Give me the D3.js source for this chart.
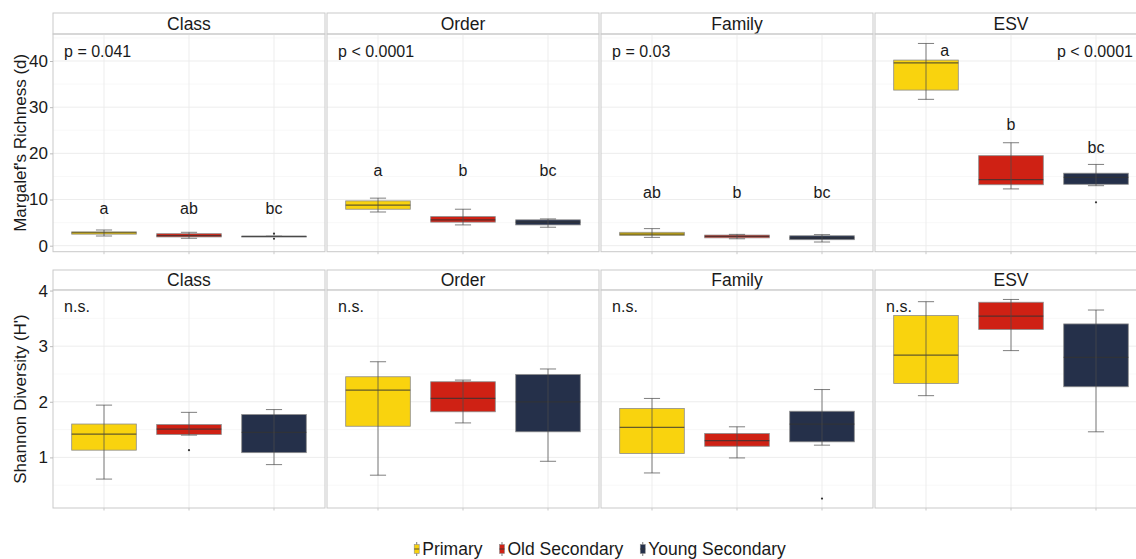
<!DOCTYPE html>
<html>
<head>
<meta charset="utf-8">
<script src="https://cdn.jsdelivr.net/npm/d3@7"></script>
<style>
  html, body { margin: 0; padding: 0; background: #fff; }
  svg { display: block; font-family: "Liberation Sans", Arial, sans-serif; }
</style>
</head>
<body>
<svg id="chart" width="1136" height="559"></svg>
<script>
// ---------------- data ----------------
const ranks = ["Class", "Order", "Family", "ESV"];
const habitats = ["Primary", "Old Secondary", "Young Secondary"];
const habitatColors = ["#F9D30E", "#CF2114", "#25304A"];

// Margalef's richness: [min, q1, median, q3, max] per habitat
const richClass  = [[2.1, 2.5, 2.8, 3.0, 3.4], [1.6, 1.9, 2.2, 2.6, 2.9], [2.0, 2.0, 2.0, 2.05, 2.05]];
const richOrder  = [[7.3, 7.9, 8.8, 9.7, 10.3], [4.5, 5.1, 5.6, 6.3, 7.9], [4.0, 4.5, 5.1, 5.6, 5.8]];
const richFamily = [[1.8, 2.2, 2.5, 2.9, 3.7], [1.5, 1.7, 2.0, 2.3, 2.45], [0.8, 1.3, 1.7, 2.15, 2.4]];
const richESV    = [[31.7, 33.7, 39.6, 40.2, 43.8], [12.3, 13.2, 14.3, 19.5, 22.3], [13.0, 13.3, 14.8, 15.7, 17.6]];
const richOutliers = [[[], [], [2.6, 1.5]], [[], [], []], [[], [], []], [[], [], [9.4]]];
const richLetters  = [["a", "ab", "bc"], ["a", "b", "bc"], ["ab", "b", "bc"], ["a", "b", "bc"]];
const richLetterY  = [[8.1, 8.1, 8.1], [16.3, 16.3, 16.3], [11.5, 11.5, 11.5], [42.3, 26.4, 21.4]];
const richP = ["p = 0.041", "p < 0.0001", "p = 0.03", "p < 0.0001"];
const richPY = 42.1;
const richTicks = [0, 10, 20, 30, 40];

// Shannon diversity: [min, q1, median, q3, max] per habitat
const divClass  = [[0.61, 1.13, 1.42, 1.60, 1.94], [1.40, 1.41, 1.51, 1.59, 1.81], [0.87, 1.085, 1.45, 1.77, 1.86]];
const divOrder  = [[0.68, 1.56, 2.21, 2.45, 2.72], [1.62, 1.82, 2.06, 2.36, 2.39], [0.93, 1.46, 2.0, 2.49, 2.59]];
const divFamily = [[0.72, 1.07, 1.54, 1.88, 2.06], [0.99, 1.20, 1.30, 1.43, 1.55], [1.22, 1.28, 1.6, 1.83, 2.22]];
const divESV    = [[2.11, 2.33, 2.84, 3.55, 3.80], [2.92, 3.30, 3.54, 3.79, 3.84], [1.46, 2.27, 2.8, 3.40, 3.65]];
const divOutliers = [[[], [1.13], []], [[], [], []], [[], [], [0.26]], [[], [], []]];
const divP = ["n.s.", "n.s.", "n.s.", "n.s."];
const divPY = 3.72;
const divTicks = [1, 2, 3, 4];

const yTitles = ["Margalef's Richness (d)", "Shannon Diversity (H')"];

// ---------------- layout ----------------
const svg = d3.select("#chart");
const panelLeft0 = 53, panelW = 272, panelGap = 2;
const rows = [
  { stats: [richClass, richOrder, richFamily, richESV], outliers: richOutliers,
    letters: richLetters, letterY: richLetterY, p: richP, pY: richPY, ticks: richTicks,
    stripTop: 13, top: 34, bottom: 251.7, domain: [-1.3, 45.85], title: yTitles[0] },
  { stats: [divClass, divOrder, divFamily, divESV], outliers: divOutliers,
    letters: null, letterY: null, p: divP, pY: divPY, ticks: divTicks,
    stripTop: 270, top: 290, bottom: 508, domain: [0.09, 4.01], title: yTitles[1] }
];

const borderCol = "#c9c9c9";
const majorGrid = "#ebebeb", minorGrid = "#f4f4f4";
const textCol = "#1a1a1a";

rows.forEach((row, ri) => {
  const y = d3.scaleLinear().domain(row.domain).range([row.bottom, row.top]);
  const step = row.ticks[1] - row.ticks[0];
  const minorTicks = d3.range(row.ticks[0] - step / 2, row.domain[1], step)
    .filter(v => v > row.domain[0] && v < row.domain[1]);

  ranks.forEach((rank, pi) => {
    const left = panelLeft0 + pi * (panelW + panelGap);
    const x = d3.scaleLinear().domain([0.4, 3.6]).range([left, left + panelW]);
    const unit = x(2) - x(1);
    const g = svg.append("g");

    // strip
    g.append("rect").attr("x", left).attr("y", row.stripTop)
      .attr("width", panelW).attr("height", row.top - row.stripTop)
      .attr("fill", "#fff").attr("stroke", borderCol).attr("stroke-width", 1);
    g.append("text").attr("x", left + panelW / 2).attr("y", (row.stripTop + row.top) / 2)
      .attr("dy", "0.36em").attr("text-anchor", "middle")
      .attr("font-size", 17.5).attr("fill", textCol).text(rank);

    // grid
    g.selectAll(".minor").data(minorTicks).join("line")
      .attr("x1", left).attr("x2", left + panelW)
      .attr("y1", d => y(d)).attr("y2", d => y(d))
      .attr("stroke", minorGrid).attr("stroke-width", 0.6);
    g.selectAll(".major").data(row.ticks).join("line")
      .attr("x1", left).attr("x2", left + panelW)
      .attr("y1", d => y(d)).attr("y2", d => y(d))
      .attr("stroke", majorGrid).attr("stroke-width", 0.9);
    g.selectAll(".vmajor").data(habitats).join("line")
      .attr("x1", (d, i) => x(i + 1)).attr("x2", (d, i) => x(i + 1))
      .attr("y1", row.top).attr("y2", row.bottom)
      .attr("stroke", majorGrid).attr("stroke-width", 0.9);

    // x ticks
    g.selectAll(".xt").data(habitats).join("line")
      .attr("x1", (d, i) => x(i + 1)).attr("x2", (d, i) => x(i + 1))
      .attr("y1", row.bottom).attr("y2", row.bottom + 2.5)
      .attr("stroke", "#bbb").attr("stroke-width", 0.8);

    // boxes
    const stats = row.stats[pi];
    const boxW = 0.76 * unit, capW = 0.19 * unit;
    stats.forEach((s, hi) => {
      const cx = x(hi + 1);
      const [mn, q1, md, q3, mx] = s;
      g.append("rect")
        .attr("x", cx - boxW / 2).attr("y", y(q3))
        .attr("width", boxW).attr("height", Math.max(0.8, y(q1) - y(q3)))
        .attr("fill", habitatColors[hi]).attr("stroke", "#8c8c8c").attr("stroke-width", 0.8);
      g.append("line")
        .attr("x1", cx - boxW / 2).attr("x2", cx + boxW / 2)
        .attr("y1", y(md)).attr("y2", y(md))
        .attr("stroke", "#333").attr("stroke-opacity", 0.75).attr("stroke-width", 1.2);
      // error bar whiskers
      const wcol = "#4d4d4d";
      g.append("line").attr("x1", cx).attr("x2", cx).attr("y1", y(mx)).attr("y2", y(mn))
        .attr("stroke", wcol).attr("stroke-opacity", 0.8).attr("stroke-width", 0.9);
      [mn, mx].forEach(v => {
        g.append("line").attr("x1", cx - capW / 2).attr("x2", cx + capW / 2)
          .attr("y1", y(v)).attr("y2", y(v))
          .attr("stroke", wcol).attr("stroke-opacity", 0.8).attr("stroke-width", 0.9);
      });
      // outliers
      row.outliers[pi][hi].forEach(v => {
        g.append("circle").attr("cx", cx).attr("cy", y(v)).attr("r", 1.1).attr("fill", "#333");
      });
      // letters
      if (row.letters) {
        const dx = (pi === 3 && hi === 0) ? 0.22 * unit : 0;
        g.append("text").attr("x", cx + dx).attr("y", y(row.letterY[pi][hi]))
          .attr("dy", "0.36em").attr("text-anchor", "middle")
          .attr("font-size", 16).attr("fill", textCol).text(row.letters[pi][hi]);
      }
    });

    // p label
    const rightAligned = (ri === 0 && pi === 3);
    g.append("text")
      .attr("x", rightAligned ? x(3.435) : x(0.53))
      .attr("y", y(row.pY)).attr("dy", "0.36em")
      .attr("text-anchor", rightAligned ? "end" : "start")
      .attr("font-size", 16).attr("fill", textCol).text(row.p[pi]);

    // panel border
    g.append("rect").attr("x", left).attr("y", row.top)
      .attr("width", panelW).attr("height", row.bottom - row.top)
      .attr("fill", "none").attr("stroke", borderCol).attr("stroke-width", 1);
  });

  // y axis
  const axis = d3.axisLeft(y).tickValues(row.ticks).tickSize(3).tickPadding(2).tickFormat(d3.format("d"));
  const ag = svg.append("g").attr("transform", `translate(${panelLeft0},0)`).call(axis);
  ag.select(".domain").remove();
  ag.selectAll(".tick line").attr("stroke", "#bbb");
  ag.selectAll(".tick text").attr("font-size", 17).attr("fill", textCol)
    .attr("font-family", "Liberation Sans, Arial, sans-serif");

  svg.append("text")
    .attr("transform", `translate(20,${(row.top + row.bottom) / 2}) rotate(-90)`)
    .attr("text-anchor", "middle").attr("dy", "0.36em")
    .attr("font-size", 17).attr("fill", textCol).text(row.title);
});

// ---------------- legend ----------------
const legend = svg.append("g");
let lx = 0;
const items = [];
habitats.forEach((h, i) => {
  const it = legend.append("g");
  it.append("line").attr("x1", 2.5).attr("x2", 2.5).attr("y1", -7).attr("y2", 7)
    .attr("stroke", "#555").attr("stroke-width", 0.8);
  it.append("rect").attr("x", 0).attr("y", -4.5).attr("width", 5).attr("height", 9)
    .attr("fill", habitatColors[i]).attr("stroke", "#8c8c8c").attr("stroke-width", 0.6);
  it.append("line").attr("x1", 0).attr("x2", 5).attr("y1", 0).attr("y2", 0)
    .attr("stroke", "#333").attr("stroke-width", 0.8);
  const t = it.append("text").attr("x", 8).attr("y", 0).attr("dy", "0.36em")
    .attr("font-size", 17.5).attr("fill", textCol).text(h);
  const w = 8 + t.node().getComputedTextLength();
  it.attr("transform", `translate(${lx},549)`);
  lx += w + 17;
});
const totalW = lx - 17;
legend.attr("transform", `translate(${600 - totalW / 2},0)`);
</script>
</body>
</html>
